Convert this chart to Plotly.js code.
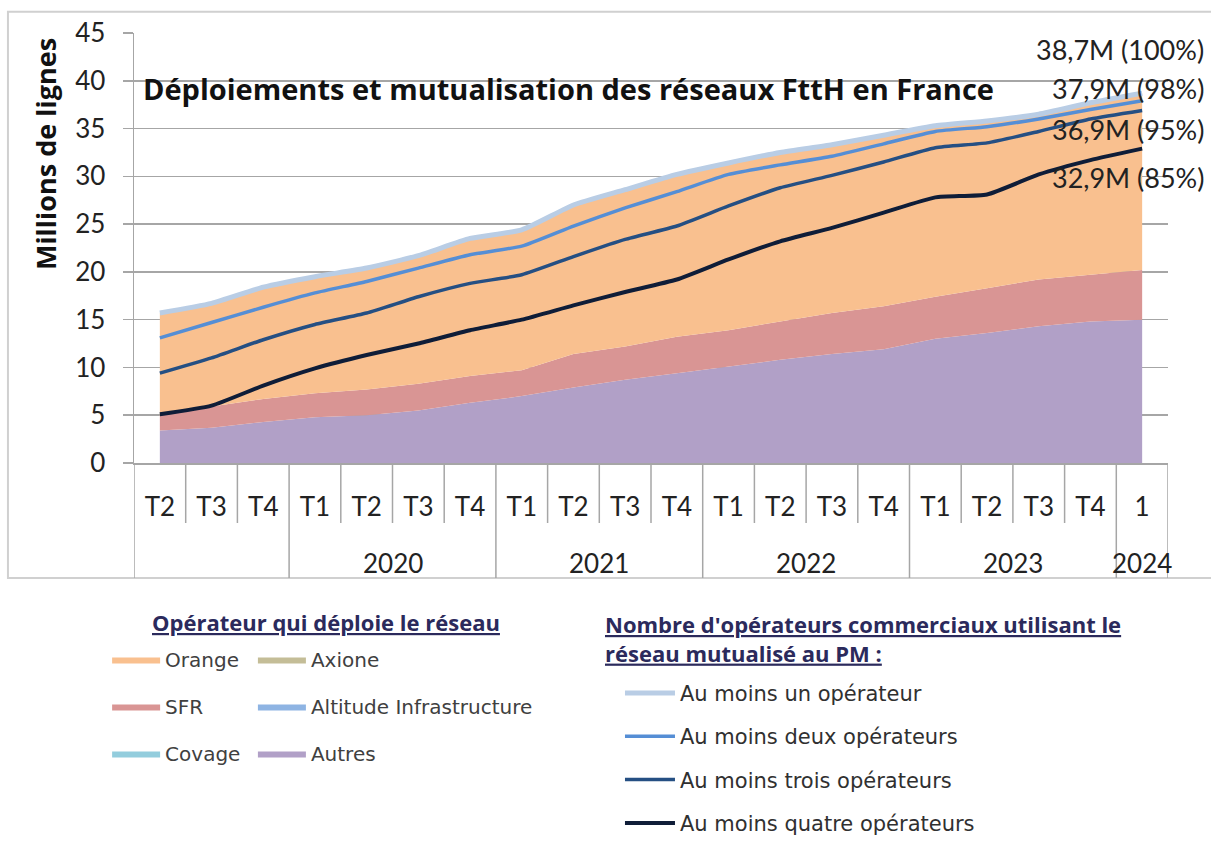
<!DOCTYPE html>
<html><head><meta charset="utf-8">
<script src="https://cdn.plot.ly/plotly-3.0.1.min.js"></script>
<style>body{margin:0;background:#fff}</style>
</head><body><div id="chart" style="width:1211px;height:847px"></div>
<script>
// ---- data ----
const quarters = ["T2","T3","T4","T1","T2","T3","T4","T1","T2","T3","T4","T1","T2","T3","T4","T1","T2","T3","T4","1"];
const years    = ["","","","2020","2020","2020","2020","2021","2021","2021","2021","2022","2022","2022","2022","2023","2023","2023","2023","2024"];

// Opérateur qui déploie le réseau (millions de lignes, stacked)
const autres   = [3.4,3.7,4.3,4.8,5.0,5.5,6.3,7.0,7.9,8.7,9.4,10.1,10.8,11.4,11.9,13.0,13.6,14.3,14.8,15.0];
const sfr      = [1.6,2.2,2.4,2.5,2.7,2.8,2.8,2.7,3.5,3.5,3.8,3.8,4.0,4.3,4.5,4.4,4.7,4.9,4.9,5.2];
const orange   = [10.7,10.8,11.7,12.2,12.7,13.4,14.4,14.7,15.6,16.4,17.0,17.5,17.7,17.6,17.9,17.9,17.5,17.3,18.0,18.5];
const axione   = [0,0,0,0,0,0,0,0,0,0,0,0,0,0,0,0,0,0,0,0];
const altitude = [0,0,0,0,0,0,0,0,0,0,0,0,0,0,0,0,0,0,0,0];
const covage   = [0,0,0,0,0,0,0,0,0,0,0,0,0,0,0,0,0,0,0,0];

// Nombre d'opérateurs commerciaux utilisant le réseau mutualisé au PM
const auMoinsUn     = [15.7,16.7,18.4,19.5,20.4,21.7,23.5,24.4,27.0,28.6,30.2,31.4,32.5,33.3,34.3,35.3,35.8,36.5,37.7,38.7];
const auMoinsDeux   = [13.1,14.7,16.3,17.8,19.0,20.4,21.8,22.7,24.8,26.7,28.4,30.2,31.2,32.1,33.4,34.7,35.2,36.0,37.0,37.9];
const auMoinsTrois  = [9.4,11.0,12.9,14.5,15.7,17.4,18.8,19.7,21.6,23.4,24.8,26.9,28.8,30.1,31.5,33.0,33.5,34.7,36.0,36.9];
const auMoinsQuatre = [5.1,6.0,8.1,9.9,11.3,12.5,13.9,15.0,16.5,17.9,19.2,21.3,23.2,24.6,26.2,27.8,28.1,30.2,31.7,32.9];

const n = quarters.length;
const xcat = quarters.map((q, i) => q + " " + years[i] + " #" + i);

const FONT = "Lato, 'Open Sans', sans-serif";
const BOLDFONT = "'Open Sans', Lato, sans-serif";
const LEGFONT = "'DejaVu Sans', Verdana, sans-serif";
const GRID = "#a6a6a6";

function area(name, y, color, legend, rank) {
  return {type:"scatter", mode:"lines", name:name, x:xcat, y:y, stackgroup:"ops",
          line:{width:0, color:color}, fillcolor:color, legend:legend, legendrank:rank,
          legendgroup:name, hoverinfo:"skip"};
}
function line(name, y, color, w, rank) {
  return {type:"scatter", mode:"lines", name:name, x:xcat, y:y,
          line:{width:w, color:color, shape:"spline", smoothing:0.5},
          legend:"legend2", legendrank:rank, legendgroup:name, hoverinfo:"skip"};
}

const traces = [
  area("Autres", autres, "#b1a0c7", "legend3", 3),
  area("SFR", sfr, "#d99594", "legend", 2),
  area("Orange", orange, "#f9c08f", "legend", 1),
  area("Axione", axione, "#c4bd97", "legend3", 1),
  area("Altitude Infrastructure", altitude, "#8eb4e3", "legend3", 2),
  area("Covage", covage, "#93cddd", "legend", 3),
  line("Au moins un opérateur", auMoinsUn, "#b9cde5", 5, 1),
  line("Au moins deux opérateurs", auMoinsDeux, "#558ed5", 3.5, 2),
  line("Au moins trois opérateurs", auMoinsTrois, "#254f83", 3.5, 3),
  line("Au moins quatre opérateurs", auMoinsQuatre, "#0f1d38", 4, 4)
];

// category boundaries of the two-level axis
const shapes = [];
for (let b = 0; b <= n; b++) {
  const long = b === 0 || b === n || years[b] !== years[b-1];
  shapes.push({type:"line", xref:"x", yref:"paper", x0:b-0.5, x1:b-0.5, y0:0, y1: long ? -0.2674 : -0.1395,
               line:{color:GRID, width:1.5}, layer:"above"});
}
// outer chart frame
shapes.push({type:"rect", xref:"paper", yref:"paper", x0:-0.1219, x1:1.0464, y0:-0.2674, y1:1.0495,
             line:{color:"#d0d0d0", width:2}, layer:"below"});

const annotations = [];
// year labels
const seen = {};
years.forEach((y, i) => { if (y) { (seen[y] = seen[y] || []).push(i); } });
Object.keys(seen).forEach(y => {
  const idx = seen[y];
  const mid = idx.reduce((a, b) => a + b, 0) / idx.length;
  annotations.push({xref:"x", yref:"paper", x:mid, y:-0.2326, xanchor:"center", yanchor:"middle",
                    text:y, showarrow:false, font:{family:FONT, size:26, color:"#222"}});
});
// end labels
const total = auMoinsUn[n-1];
const ends = [[auMoinsUn, 43.3],[auMoinsDeux, 39.2],[auMoinsTrois, 34.9],[auMoinsQuatre, 29.9]];
ends.forEach(([arr, ypos]) => {
  const v = arr[n-1];
  const pct = Math.round(v / total * 100);
  annotations.push({xref:"paper", yref:"y", x:1.0368, y:ypos, xanchor:"right", yanchor:"middle", showarrow:false,
                    text: v.toFixed(1).replace(".", ",") + "M (" + pct + "%)",
                    font:{family:FONT, size:27, color:"#222"}});
});
// chart title inside plot
annotations.push({xref:"paper", yref:"paper", x:0.0068, y:0.872, xanchor:"left", yanchor:"middle", showarrow:false,
                  text:"<b>Déploiements et mutualisation des réseaux FttH en France</b>",
                  font:{family:BOLDFONT, size:29, color:"#111"}});
// y axis title
annotations.push({xref:"paper", yref:"paper", x:-0.086, y:0.7186, xanchor:"center", yanchor:"middle",
                  textangle:-90, showarrow:false,
                  text:"<b>Millions de lignes</b>", font:{family:BOLDFONT, size:27, color:"#111"}});
// legend titles
annotations.push({xref:"paper", yref:"paper", x:0.0155, y:-0.3698, xanchor:"left", yanchor:"middle", showarrow:false,
                  text:"<b><u>Opérateur qui déploie le réseau</u></b>", font:{family:BOLDFONT, size:22, color:"#2b2a5c"}});
annotations.push({xref:"paper", yref:"paper", x:0.4536, y:-0.408, xanchor:"left", yanchor:"middle", align:"left", showarrow:false,
                  text:"<b><u>Nombre d'opérateurs commerciaux utilisant le</u></b><br><b><u>réseau mutualisé au PM :</u></b>",
                  font:{family:BOLDFONT, size:22, color:"#2b2a5c"}});

const layout = {
  width:1211, height:847,
  margin:{l:134, r:43, t:33, b:384, autoexpand:false},
  paper_bgcolor:"#fff", plot_bgcolor:"#fff",
  showlegend:true,
  xaxis:{type:"category", tickvals:xcat, ticktext:quarters, showgrid:false, zeroline:false,
         showline:true, linecolor:GRID, linewidth:1.5, ticks:"outside", ticklen:20, tickcolor:"rgba(0,0,0,0)",
         tickfont:{family:FONT, size:26, color:"#222"}, range:[-0.5, n-0.5], fixedrange:true},
  yaxis:{range:[0,45], dtick:5, showgrid:true, gridcolor:GRID, gridwidth:1.5, zeroline:false,
         showline:true, linecolor:GRID, linewidth:1.5, ticks:"outside", ticklen:10, tickcolor:GRID, tickwidth:1.5,
         ticklabelstandoff:12, tickfont:{family:FONT, size:26, color:"#222"}, fixedrange:true},
  legend:{x:-0.026, y:-0.4116, xanchor:"left", yanchor:"top", itemwidth:48, tracegroupgap:18,
          font:{family:LEGFONT, size:20, color:"#404040"}, bgcolor:"rgba(0,0,0,0)"},
  legend3:{x:0.115, y:-0.4116, xanchor:"left", yanchor:"top", itemwidth:48, tracegroupgap:18,
          font:{family:LEGFONT, size:20, color:"#404040"}, bgcolor:"rgba(0,0,0,0)"},
  legend2:{x:0.47, y:-0.488, xanchor:"left", yanchor:"top", itemwidth:50, tracegroupgap:13,
          font:{family:LEGFONT, size:21, color:"#303030"}, bgcolor:"rgba(0,0,0,0)"},
  shapes:shapes, annotations:annotations
};

Plotly.newPlot("chart", traces, layout, {displayModeBar:false, staticPlot:true});
</script></body></html>
